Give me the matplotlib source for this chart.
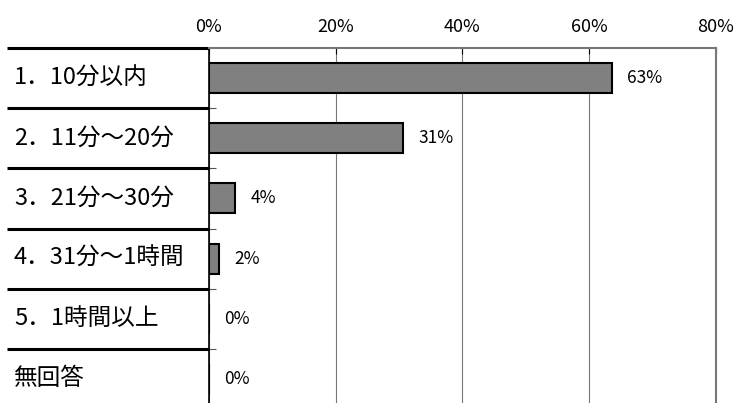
import matplotlib
matplotlib.use("Agg")
from matplotlib import pyplot as plt
from matplotlib.ticker import FuncFormatter

plt.rcParams["font.family"] = ["Noto Sans CJK JP", "DejaVu Sans"]

categories = ["1．10分以内", "2．11分～20分", "3．21分～30分", "4．31分～1時間", "5．1時間以上", "無回答"]
percent = [63.6, 30.6, 4.1, 1.6, 0.0, 0.0]
value_labels = ["63%", "31%", "4%", "2%", "0%", "0%"]
x_ticks = [0, 20, 40, 60, 80]

fig = plt.figure(figsize=(7.36, 4.03), dpi=100)
ax = fig.add_axes([209 / 736, 0.0, 506.7 / 736, 355 / 403])

ypos = list(range(len(categories)))
ax.barh(ypos, percent, height=0.5, color="#808080", edgecolor="black", linewidth=1.5, zorder=3)

ax.set_xlim(0, 80)
ax.set_ylim(5.4, -0.5)
ax.xaxis.tick_top()
ax.set_xticks(x_ticks)
ax.xaxis.set_major_formatter(FuncFormatter(lambda v, _: f"{v:.0f}%"))
ax.tick_params(axis="x", direction="in", length=4, pad=9, labelsize=13, color="black")
ax.grid(axis="x", color="#777777", linewidth=0.8, zorder=0)

# row boundary ticks on the left spine
ax.set_yticks([i + 0.5 for i in ypos[:-1]])
ax.set_yticklabels([])
ax.tick_params(axis="y", direction="in", length=5, color="#555555")

for side in ("top", "right"):
    ax.spines[side].set_color("#777777")
    ax.spines[side].set_linewidth(1.5)
ax.spines["bottom"].set_visible(False)
ax.spines["left"].set_color("black")
ax.spines["left"].set_linewidth(1.2)

# table-like category column on the left
trans = ax.get_yaxis_transform()
x_left = (7 - 209) / 506.7
for i, label in enumerate(categories):
    ax.text((14 - 209) / 506.7, i, label, transform=trans, ha="left", va="center",
            fontsize=17, clip_on=False)
for b in [-0.5] + [i + 0.5 for i in ypos[:-1]]:
    ax.plot([x_left, 0], [b, b], transform=trans, color="black", linewidth=2.2,
            clip_on=False, solid_capstyle="butt")

for i, (v, lab) in enumerate(zip(percent, value_labels)):
    ax.annotate(lab, (v, i), xytext=(11, 0), textcoords="offset points", ha="left",
                va="center", fontsize=12.5)

fig.savefig("out.png", dpi=100)
